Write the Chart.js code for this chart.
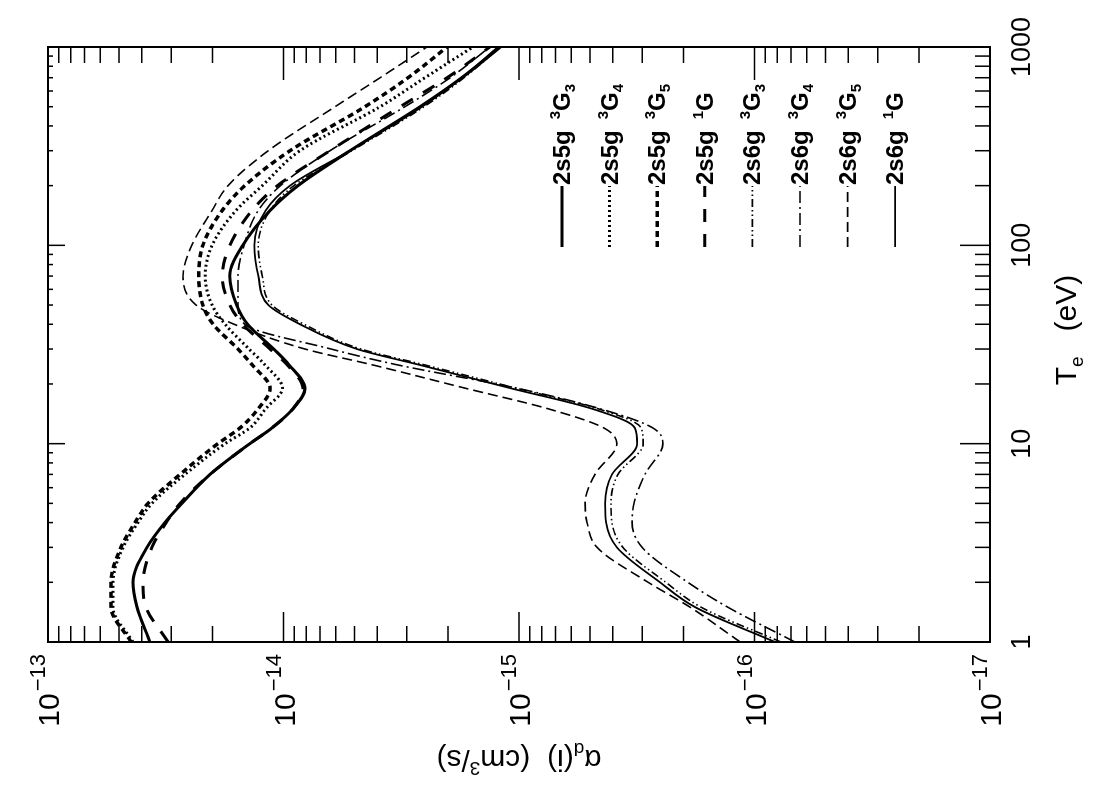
<!DOCTYPE html>
<html>
<head>
<meta charset="utf-8">
<title>Dielectronic recombination rate coefficients</title>
<script src="https://cdn.jsdelivr.net/npm/chart.js@4.4.1/dist/chart.umd.min.js"></script>
<style>
  html, body { margin: 0; padding: 0; background: #fff; overflow: hidden; }
  /* the plot is drawn upright and then turned a quarter turn, like the scan */
  #wrap {
    position: absolute; left: 0; top: 0;
    width: 788px; height: 1094px;
    transform-origin: 0 0;
    transform: translate(0, 788px) rotate(-90deg);
  }
</style>
</head>
<body>
<div id="wrap"><canvas id="myChart" width="788" height="1094"></canvas></div>
<script>
'use strict';

// *********** DATA ***********
// electron temperature Te (eV)
let tempEv = [1, 1.5, 2, 3, 4, 5, 7, 10, 12, 15, 19, 25, 30, 40, 50, 70, 100, 150, 200, 300, 500, 700, 1000];

// alpha_d(i), in units of 1e-15 cm^3/s
let s5g3G3 = [36.9, 41.9, 43.6, 38.0, 31.9, 27.0, 20.5, 13.9, 11.2, 9.11, 8.10, 9.48, 11.0, 14.2, 15.8, 16.9, 14.9, 11.4, 8.68, 5.22, 2.63, 1.75, 1.20];
let s5g3G4 = [43.6, 53.0, 53.0, 48.0, 41.5, 36.2, 26.2, 17.7, 13.9, 11.9, 10.1, 12.0, 14.0, 17.7, 20.1, 21.5, 20.1, 15.9, 12.3, 8.51, 3.89, 2.51, 1.57];
let s5g3G5 = [44.4, 54.0, 54.0, 49.0, 42.7, 37.6, 27.5, 19.0, 15.3, 12.8, 11.4, 13.6, 15.6, 19.9, 22.0, 22.9, 22.0, 18.2, 14.6, 9.38, 4.51, 2.96, 2.02];
let s5g1G = [30.9, 38.4, 39.5, 36.2, 31.5, 27.5, 20.5, 13.9, 11.2, 9.11, 8.27, 9.66, 11.4, 14.9, 16.9, 18.2, 16.9, 13.6, 10.6, 6.35, 3.20, 2.02, 1.33];
let s6g3G3 = [0.0772, 0.169, 0.238, 0.362, 0.403, 0.407, 0.380, 0.297, 0.303, 0.462, 1.02, 2.53, 4.69, 8.18, 11.2, 12.3, 12.8, 11.4, 9.03, 5.12, 2.53, 1.71, 1.20];
let s6g3G4 = [0.0673, 0.130, 0.192, 0.300, 0.331, 0.325, 0.292, 0.245, 0.270, 0.453, 1.01, 3.30, 6.28, 14.6, 15.6, 15.6, 14.7, 12.8, 10.3, 6.35, 3.05, 1.96, 1.33];
let s6g3G5 = [0.115, 0.188, 0.283, 0.466, 0.514, 0.524, 0.476, 0.384, 0.436, 0.753, 1.68, 4.21, 8.10, 16.2, 23.5, 26.7, 24.5, 20.1, 17.2, 11.6, 6.04, 3.89, 2.46];
let s6g1G = [0.0818, 0.179, 0.252, 0.384, 0.427, 0.431, 0.403, 0.315, 0.322, 0.490, 1.08, 2.66, 4.87, 8.51, 11.6, 12.8, 13.3, 11.9, 9.38, 5.22, 2.58, 1.75, 1.23];

let seriesValues = [s5g3G3, s5g3G4, s5g3G5, s5g1G, s6g3G3, s6g3G4, s6g3G5, s6g1G];

// legend text: configuration, spin multiplicity (superscript), J (subscript)
let seriesConf = ['2s5g', '2s5g', '2s5g', '2s5g', '2s6g', '2s6g', '2s6g', '2s6g'];
let seriesMult = ['3', '3', '3', '1', '3', '3', '3', '1'];
let seriesJ = ['3', '4', '5', '', '3', '4', '5', ''];

// axis ticks
let xTickLabels = [1, 10, 100, 1000];
let yTickExps = [-13, -14, -15, -16, -17];

// ******* STYLES ******************
let FONT = '"Liberation Sans", Arial, Helvetica, sans-serif';

let lineStyles = [
  { width: 3, dash: [] },
  { width: 3, dash: [2, 3] },
  { width: 3.5, dash: [6, 4] },
  { width: 3, dash: [13, 12] },
  { width: 1.6, dash: [8, 3, 1.5, 3, 1.5, 3] },
  { width: 1.6, dash: [12, 4, 2, 4] },
  { width: 1.6, dash: [10, 5] },
  { width: 1.8, dash: [] }
];

// ********** HELPER FUNCTIONS *************

function makePoints(values) {
  let pts = [];
  for (let i = 0; i < tempEv.length; i++) {
    pts.push({ x: tempEv[i], y: values[i] * 1e-15 });
  }
  return pts;
}

// draws a run of text pieces (for sub/superscripts); align 'center', 'left' or 'right'
function drawPieces(ctx, pieces, x, y, align) {
  let total = 0;
  for (let p of pieces) {
    ctx.font = p.font;
    total += ctx.measureText(p.t).width + (p.gap || 0);
  }
  let cx = x;
  if (align === 'center') cx = x - total / 2;
  if (align === 'right') cx = x - total;
  ctx.textAlign = 'left';
  ctx.textBaseline = 'alphabetic';
  for (let p of pieces) {
    ctx.font = p.font;
    cx += (p.gap || 0);
    ctx.fillText(p.t, cx, y + (p.dy || 0));
    cx += ctx.measureText(p.t).width;
  }
}

// frame, inside ticks, exponent labels, axis titles and the legend
let framePlugin = {
  id: 'frame',
  afterDraw(chart) {
    let ctx = chart.ctx;
    let area = chart.chartArea;
    let xs = chart.scales.x;
    let ys = chart.scales.y;

    ctx.save();
    ctx.strokeStyle = '#000';
    ctx.fillStyle = '#000';
    ctx.setLineDash([]);

    ctx.lineWidth = 2;
    ctx.strokeRect(area.left, area.top, area.right - area.left, area.bottom - area.top);

    ctx.lineWidth = 1.5;
    ctx.beginPath();
    for (let d = 0; d < 3; d++) {
      for (let k = 1; k < 10; k++) {
        let px = xs.getPixelForValue(k * Math.pow(10, d));
        let major = k === 1;
        ctx.moveTo(px, area.bottom);
        ctx.lineTo(px, area.bottom - (major ? 30 : 15));
        ctx.moveTo(px, area.top);
        ctx.lineTo(px, area.top + (major ? 17 : 5));
      }
    }
    for (let e = -17; e < -13; e++) {
      for (let k = 1; k < 10; k++) {
        let py = ys.getPixelForValue(k * Math.pow(10, e));
        let major = k === 1;
        ctx.moveTo(area.left, py);
        ctx.lineTo(area.left + (major ? 30 : 16), py);
        ctx.moveTo(area.right, py);
        ctx.lineTo(area.right - (major ? 33 : 16), py);
      }
    }
    ctx.stroke();

    // 10^n labels on the rate axis
    for (let e of yTickExps) {
      let py = ys.getPixelForValue(Math.pow(10, e));
      drawPieces(ctx, [
        { t: '10', font: '30px ' + FONT, dy: 11 },
        { t: '\u2212' + Math.abs(e), font: '22px ' + FONT, dy: -3, gap: 2 }
      ], area.left - 12, py, 'right');
    }

    // axis titles
    let big = '30px ' + FONT;
    let small = '19px ' + FONT;
    drawPieces(ctx, [
      { t: 'T', font: big },
      { t: 'e', font: small, dy: 7 },
      { t: '   (eV)', font: big }
    ], 458, 1076, 'center');

    ctx.save();
    ctx.translate(28, (area.top + area.bottom) / 2);
    ctx.rotate(-Math.PI / 2);
    drawPieces(ctx, [
      { t: '\u03b1', font: big },
      { t: 'd', font: small, dy: 7 },
      { t: '(i)  (cm', font: big },
      { t: '3', font: small, dy: -12 },
      { t: '/s)', font: big }
    ], 0, 10, 'center');
    ctx.restore();

    // legend
    for (let i = 0; i < seriesConf.length; i++) {
      let rowY = 562 + i * 47.6;
      let st = lineStyles[i];
      ctx.lineWidth = st.width;
      ctx.setLineDash(st.dash);
      ctx.beginPath();
      ctx.moveTo(541, rowY);
      ctx.lineTo(602, rowY);
      ctx.stroke();
      ctx.setLineDash([]);
      let bold = 'bold 24px ' + FONT;
      let tiny = 'bold 15px ' + FONT;
      drawPieces(ctx, [
        { t: seriesConf[i], font: bold },
        { t: seriesMult[i], font: tiny, dy: -10, gap: 11 },
        { t: 'G', font: bold },
        { t: seriesJ[i], font: tiny, dy: 5 }
      ], 603, rowY + 8, 'left');
    }

    ctx.restore();
  }
};

// ********** CHART ***********
let ctx = document.getElementById('myChart').getContext('2d');

let datasets = [];
for (let i = 0; i < seriesValues.length; i++) {
  datasets.push({
    label: seriesConf[i] + ' ' + seriesMult[i] + 'G' + seriesJ[i],
    data: makePoints(seriesValues[i]),
    borderColor: '#000',
    borderWidth: lineStyles[i].width,
    borderDash: lineStyles[i].dash,
    pointRadius: 0,
    cubicInterpolationMode: 'monotone',
    fill: false
  });
}

let myChartObj = {
  type: 'line',
  data: { datasets: datasets },
  options: {
    responsive: false,
    animation: false,
    devicePixelRatio: 1,
    layout: { padding: { top: 48, right: 47, left: 0, bottom: 0 } },
    plugins: {
      legend: { display: false },
      tooltip: { enabled: false }
    },
    scales: {
      x: {
        type: 'logarithmic',
        position: 'bottom',
        min: 1,
        max: 1000,
        grid: { display: false, drawTicks: false },
        border: { display: false },
        ticks: {
          autoSkip: false,
          maxRotation: 0,
          padding: 16,
          color: '#000',
          font: { family: FONT, size: 27 },
          callback: function (value) {
            let hit = xTickLabels.some(t => Math.abs(t - value) < 1e-6);
            return hit ? String(Math.round(value)) : '';
          }
        },
        afterFit(scale) { scale.height = 104; }
      },
      y: {
        type: 'logarithmic',
        min: 1e-17,
        max: 1e-13,
        grid: { display: false, drawTicks: false },
        border: { display: false },
        ticks: { display: false },
        afterFit(scale) { scale.width = 146; }
      }
    }
  },
  plugins: [framePlugin]
};

const myChart = new Chart(ctx, myChartObj);
</script>
</body>
</html>
